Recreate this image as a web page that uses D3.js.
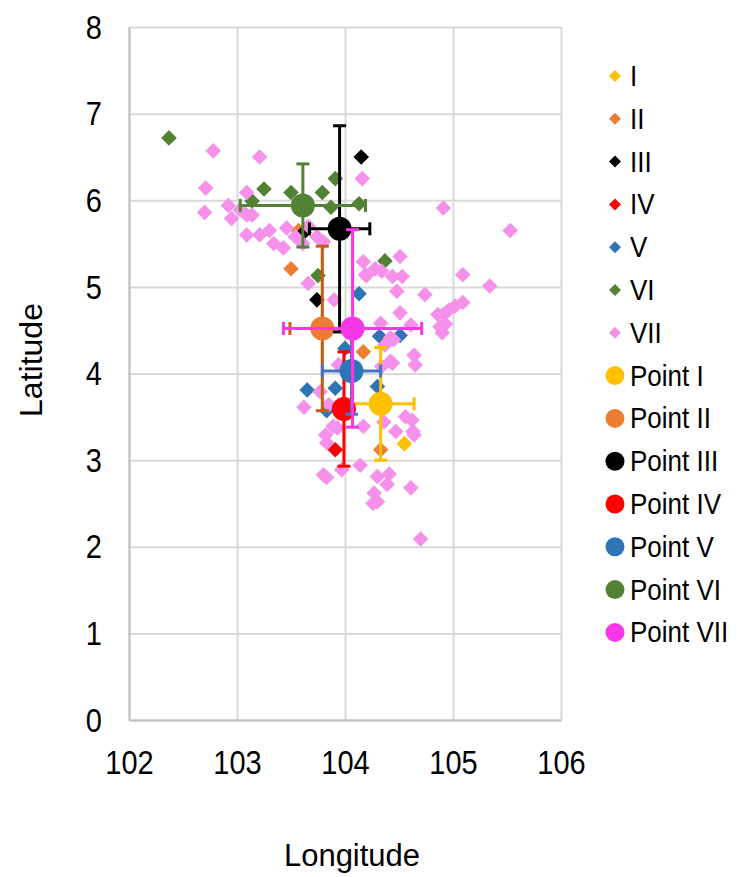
<!DOCTYPE html>
<html>
<head>
<meta charset="utf-8">
<script src="https://cdn.jsdelivr.net/npm/d3@7"></script>
<style>
  body { margin: 0; background: #fff; }
  text { font-family: "Liberation Sans", Arial, sans-serif; fill: #000; }
</style>
</head>
<body>
<div class="container"></div>
<script>
const w = 738
const h = 877

// group names and colours
const groups = ['I', 'II', 'III', 'IV', 'V', 'VI', 'VII']
const diamondColors = ['#FFC000', '#ED7D31', '#000000', '#FF0000', '#2E75B6', '#548235', '#F590EB']
const pointColors = ['#FFC000', '#ED7D31', '#000000', '#FF0000', '#2E75B6', '#548235', '#F936E8']
const barColors = ['#FFC000', '#C55A11', '#000000', '#FF0000', '#4472C4', '#548235', '#F936E8']

// scatter data [longitude, latitude]
const seriesI = [[104.55, 3.19]]
const seriesII = [[103.57, 5.65], [103.50, 5.21], [104.17, 4.25], [104.33, 3.12]]
const seriesIII = [[104.15, 6.50], [103.74, 4.85], [103.62, 5.63]]
const seriesIV = [[103.91, 3.12]]
const seriesV = [[104.13, 4.92], [104.00, 4.29], [103.65, 3.81], [103.91, 3.83], [104.30, 3.85],
  [103.83, 3.57], [104.32, 4.43], [104.51, 4.44]]
const seriesVI = [[102.37, 6.72], [103.25, 6.13], [103.14, 5.99], [103.50, 6.09], [103.79, 6.09],
  [103.91, 6.25], [103.87, 5.92], [104.13, 5.96], [103.75, 5.13], [104.37, 5.30]]
const seriesVII = [[102.78, 6.57], [103.21, 6.50], [102.71, 6.14], [102.70, 5.86], [103.09, 6.09],
  [102.92, 5.94], [102.95, 5.79], [103.03, 5.89], [103.09, 5.83], [103.14, 5.83], [103.09, 5.60],
  [103.21, 5.60], [103.30, 5.65], [103.34, 5.50], [103.43, 5.45], [103.46, 5.68], [103.54, 5.58],
  [103.61, 5.50], [103.66, 5.70], [103.74, 5.58], [103.80, 5.52], [103.66, 5.04], [103.90, 4.85],
  [104.16, 6.25], [104.17, 5.29], [104.19, 5.14], [104.91, 5.91], [105.53, 5.65], [104.51, 5.35],
  [104.28, 5.21], [104.34, 5.18], [104.20, 5.13], [104.44, 5.12], [104.53, 5.12], [105.09, 5.14],
  [105.34, 5.01], [104.48, 4.95], [104.74, 4.91], [105.09, 4.82], [105.02, 4.78], [104.96, 4.73],
  [104.92, 4.69], [104.86, 4.68], [104.51, 4.70], [104.93, 4.57], [104.88, 4.54], [104.90, 4.47],
  [104.33, 4.58], [104.61, 4.56], [104.45, 4.39], [104.37, 4.33], [104.42, 4.41], [104.64, 4.21],
  [104.65, 4.10], [104.44, 4.12], [104.34, 4.08], [104.42, 4.14], [103.94, 4.10], [103.77, 3.79],
  [103.62, 3.61], [103.85, 3.64], [103.89, 3.39], [104.17, 3.39], [104.36, 3.44], [104.47, 3.33],
  [104.56, 3.50], [104.62, 3.46], [104.63, 3.33], [103.82, 3.29], [103.93, 3.37], [104.64, 3.29],
  [103.83, 3.20], [103.97, 2.89], [104.14, 2.94], [103.80, 2.83], [103.83, 2.80], [104.30, 2.81],
  [104.41, 2.84], [104.39, 2.72], [104.61, 2.68], [104.27, 2.62], [104.26, 2.50], [104.30, 2.52],
  [104.70, 2.09]]
const allSeries = [seriesI, seriesII, seriesIII, seriesIV, seriesV, seriesVI, seriesVII]

// mean points with error bars
const pointLon = [104.33, 103.79, 103.95, 103.99, 104.06, 103.61, 104.07]
const pointLat = [3.65, 4.52, 5.67, 3.59, 4.03, 5.94, 4.52]
const pointLonErr = [0.31, 0.30, 0.28, 0.05, 0.27, 0.58, 0.64]
const pointLatErr = [0.65, 0.95, 1.19, 0.66, 0.50, 0.48, 1.14]

const xTicks = [102, 103, 104, 105, 106]
const yTicks = [0, 1, 2, 3, 4, 5, 6, 7, 8]

const svg = d3.select('.container')
  .append('svg')
  .attr('width', w)
  .attr('height', h)

const xScale = d3.scaleLinear().domain([102, 106]).range([129, 561])
const yScale = d3.scaleLinear().domain([0, 8]).range([720, 27])

// gridlines
svg.append('g')
  .attr('transform', 'translate(0,720)')
  .call(d3.axisBottom(xScale).tickValues(xTicks).tickSize(-693).tickFormat(''))
  .call(g => g.select('.domain').remove())
  .call(g => g.selectAll('line').attr('stroke', '#D9D9D9').attr('stroke-width', 2))
svg.append('g')
  .attr('transform', 'translate(129,0)')
  .call(d3.axisLeft(yScale).tickValues(yTicks).tickSize(-432).tickFormat(''))
  .call(g => g.select('.domain').remove())
  .call(g => g.selectAll('line').attr('stroke', '#D9D9D9').attr('stroke-width', 2))

// axis lines and labels (text slightly taller than wide, as in the picture)
const xAxis = svg.append('g')
  .attr('transform', 'translate(0,720)')
  .call(d3.axisBottom(xScale).tickValues(xTicks).tickSize(0).tickFormat(d3.format('d')))
xAxis.select('.domain').attr('stroke', '#BFBFBF').attr('stroke-width', 2)
xAxis.selectAll('text')
  .attr('y', 0).attr('dy', null)
  .attr('dominant-baseline', 'central')
  .attr('transform', 'translate(0,43) scale(1,1.15)')
  .style('font-size', '29px').attr('fill', '#000')

const yAxis = svg.append('g')
  .attr('transform', 'translate(129,0)')
  .call(d3.axisLeft(yScale).tickValues(yTicks).tickSize(0))
yAxis.select('.domain').attr('stroke', '#BFBFBF').attr('stroke-width', 2)
yAxis.selectAll('text')
  .attr('x', 0).attr('dy', null)
  .attr('dominant-baseline', 'central')
  .attr('transform', 'translate(-27,0) scale(1,1.15)')
  .style('font-size', '29px').attr('fill', '#000')

svg.append('text')
  .text('Longitude')
  .attr('x', 352)
  .attr('y', 866)
  .attr('text-anchor', 'middle')
  .style('font-size', '31px')

svg.append('text')
  .text('Latitude')
  .attr('transform', 'translate(42,360) rotate(-90)')
  .attr('text-anchor', 'middle')
  .style('font-size', '32px')

// diamond marker of half-diagonal r
const diamondPath = r => `M0,${-r}L${r},0L0,${r}L${-r},0Z`

// scatter diamonds
allSeries.forEach((s, i) => {
  svg.append('g').selectAll('path')
    .data(s)
    .enter()
    .append('path')
    .attr('d', diamondPath(7.8))
    .attr('transform', d => `translate(${xScale(d[0])},${yScale(d[1])})`)
    .attr('fill', diamondColors[i])
})

// error bars and mean points
const cap = 6.5
groups.forEach((g, i) => {
  const cx = xScale(pointLon[i])
  const cy = yScale(pointLat[i])
  const x0 = xScale(pointLon[i] - pointLonErr[i])
  const x1 = xScale(pointLon[i] + pointLonErr[i])
  const y0 = yScale(pointLat[i] - pointLatErr[i])
  const y1 = yScale(pointLat[i] + pointLatErr[i])
  const eg = svg.append('g')
    .attr('stroke', barColors[i])
    .attr('stroke-width', 3)
  eg.append('line').attr('x1', x0).attr('x2', x1).attr('y1', cy).attr('y2', cy)
  eg.append('line').attr('x1', x0).attr('x2', x0).attr('y1', cy - cap).attr('y2', cy + cap)
  eg.append('line').attr('x1', x1).attr('x2', x1).attr('y1', cy - cap).attr('y2', cy + cap)
  eg.append('line').attr('x1', cx).attr('x2', cx).attr('y1', y0).attr('y2', y1)
  eg.append('line').attr('x1', cx - cap).attr('x2', cx + cap).attr('y1', y0).attr('y2', y0)
  eg.append('line').attr('x1', cx - cap).attr('x2', cx + cap).attr('y1', y1).attr('y2', y1)
  svg.append('circle')
    .attr('cx', cx)
    .attr('cy', cy)
    .attr('r', 12)
    .attr('fill', pointColors[i])
})

// legend
const legendItems = groups.map((g, i) => ({ label: g, color: diamondColors[i], type: 'diamond' }))
  .concat(groups.map((g, i) => ({ label: 'Point ' + g, color: pointColors[i], type: 'circle' })))
const legend = svg.append('g')
legendItems.forEach((d, i) => {
  const y = 76 + i * 42.8
  if (d.type === 'diamond') {
    legend.append('path')
      .attr('d', diamondPath(6))
      .attr('transform', `translate(615,${y})`)
      .attr('fill', d.color)
  } else {
    legend.append('circle')
      .attr('cx', 615)
      .attr('cy', y)
      .attr('r', 9.5)
      .attr('fill', d.color)
  }
  legend.append('text')
    .text(d.label)
    .attr('x', 630)
    .attr('y', y)
    .attr('dominant-baseline', 'central')
    .attr('transform', `translate(0,${y}) scale(1,1.1) translate(0,${-y})`)
    .style('font-size', '26px')
})
</script>
</body>
</html>
